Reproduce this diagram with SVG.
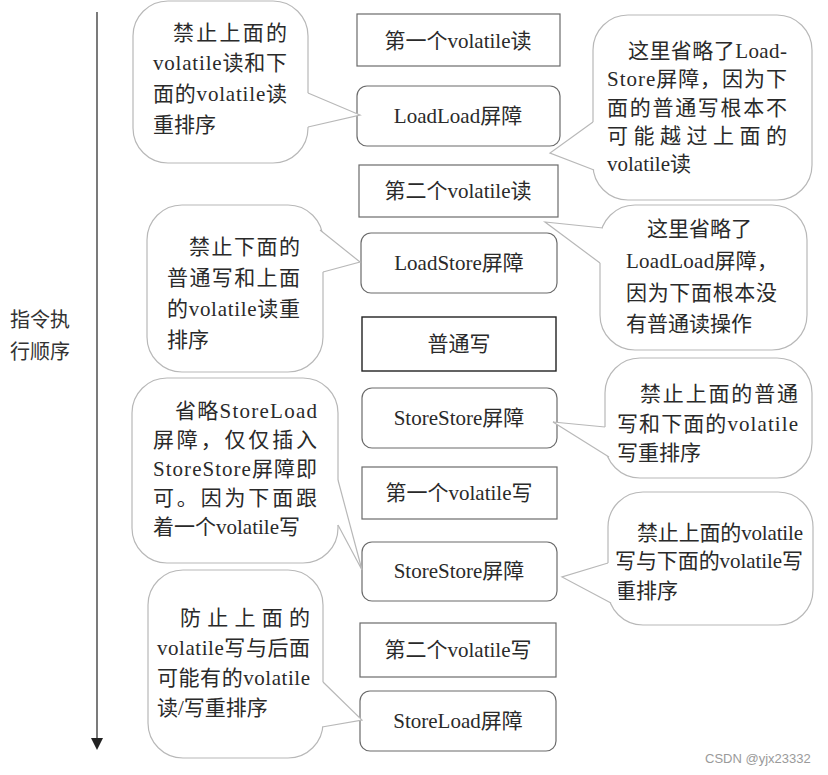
<svg xmlns="http://www.w3.org/2000/svg" width="828" height="775" viewBox="0 0 828 775">
<style>
.bg{fill:#fff}
.box{fill:#fff;stroke:#6b6b6b;stroke-width:1.2}
.plain{fill:#fff;stroke:#222;stroke-width:1.4}
.bubble{fill:#fff;stroke:#b8b8b8;stroke-width:1.2}
.tailfill{fill:#fff;stroke:none}
.tail{fill:none;stroke:#b8b8b8;stroke-width:1.2;stroke-linejoin:miter}
.t{font-family:"Liberation Serif","Noto Sans CJK SC",serif;font-size:21px;fill:#2a2a2a}
.c{text-anchor:middle}
.axis{stroke:#333;stroke-width:1.3}
.axtxt{font-family:"Noto Sans CJK SC","Liberation Sans",sans-serif;font-size:20px;fill:#333}
.wm{font-family:"Liberation Sans",Arial,sans-serif;font-size:13px;fill:#9a9a9a}
</style>
<rect class="bg" x="0" y="0" width="828" height="775"/>

<g id="axis">
  <line class="axis" x1="97" y1="12" x2="97" y2="740"/>
  <polygon points="91,738 103,738 97,750" fill="#222"/>
  <text class="axtxt" x="10" y="327">指令执</text>
  <text class="axtxt" x="10" y="359">行顺序</text>
</g>

<g id="n1"><rect class="box" x="357" y="14" width="203" height="52"/><text class="t c" x="458" y="48">第一个volatile读</text></g>
<g id="n2"><rect class="box" x="357" y="86" width="203" height="60" rx="10"/><text class="t c" x="458" y="123">LoadLoad屏障</text></g>
<g id="n3"><rect class="box" x="359" y="165" width="199" height="52"/><text class="t c" x="458" y="198">第二个volatile读</text></g>
<g id="n4"><rect class="box" x="361" y="233" width="196" height="60" rx="10"/><text class="t c" x="459" y="270">LoadStore屏障</text></g>
<g id="n5"><rect class="plain" x="362" y="317" width="194" height="54"/><text class="t c" x="459" y="351">普通写</text></g>
<g id="n6"><rect class="box" x="362" y="388" width="195" height="60" rx="10"/><text class="t c" x="459" y="425">StoreStore屏障</text></g>
<g id="n7"><rect class="box" x="362" y="467" width="195" height="52"/><text class="t c" x="459" y="500">第一个volatile写</text></g>
<g id="n8"><rect class="box" x="362" y="542" width="195" height="59" rx="10"/><text class="t c" x="459" y="578">StoreStore屏障</text></g>
<g id="n9"><rect class="box" x="360" y="623" width="196" height="54"/><text class="t c" x="458" y="657">第二个volatile写</text></g>
<g id="n10"><rect class="box" x="360" y="691" width="196" height="60" rx="10"/><text class="t c" x="458" y="728">StoreLoad屏障</text></g>

<g id="callout-l1">
  <rect class="bubble" x="133" y="1" width="175" height="162" rx="35"/>
  <text class="t" x="173" y="40" textLength="114" lengthAdjust="spacing">禁止上面的</text>
  <text class="t" x="153" y="70" textLength="134" lengthAdjust="spacing">volatile读和下</text>
  <text class="t" x="153" y="101" textLength="134" lengthAdjust="spacing">面的volatile读</text>
  <text class="t" x="153" y="132">重排序</text>
</g>
<g id="callout-l2">
  <rect class="bubble" x="147" y="205" width="176" height="167" rx="35"/>
  <text class="t" x="189" y="254" textLength="111" lengthAdjust="spacing">禁止下面的</text>
  <text class="t" x="167" y="285" textLength="133" lengthAdjust="spacing">普通写和上面</text>
  <text class="t" x="167" y="316" textLength="133" lengthAdjust="spacing">的volatile读重</text>
  <text class="t" x="167" y="347">排序</text>
</g>
<g id="callout-l3">
  <rect class="bubble" x="132" y="378" width="206" height="185" rx="35"/>
  <text class="t" x="175" y="418" textLength="142" lengthAdjust="spacing">省略StoreLoad</text>
  <text class="t" x="153" y="447" textLength="164" lengthAdjust="spacing">屏障，仅仅插入</text>
  <text class="t" x="153" y="476" textLength="164" lengthAdjust="spacing">StoreStore屏障即</text>
  <text class="t" x="153" y="505" textLength="164" lengthAdjust="spacing">可。因为下面跟</text>
  <text class="t" x="153" y="534">着一个volatile写</text>
</g>
<g id="callout-l4">
  <rect class="bubble" x="148" y="570" width="175" height="188" rx="35"/>
  <text class="t" x="180" y="625" textLength="130" lengthAdjust="spacing">防止上面的</text>
  <text class="t" x="157" y="655" textLength="153" lengthAdjust="spacing">volatile写与后面</text>
  <text class="t" x="157" y="685" textLength="153" lengthAdjust="spacing">可能有的volatile</text>
  <text class="t" x="157" y="715">读/写重排序</text>
</g>
<g id="callout-r1">
  <rect class="bubble" x="593" y="15" width="219" height="185" rx="35"/>
  <text class="t" x="628" y="58" textLength="159" lengthAdjust="spacing">这里省略了Load-</text>
  <text class="t" x="607" y="86" textLength="180" lengthAdjust="spacing">Store屏障，因为下</text>
  <text class="t" x="607" y="115" textLength="180" lengthAdjust="spacing">面的普通写根本不</text>
  <text class="t" x="607" y="143" textLength="180" lengthAdjust="spacing">可能越过上面的</text>
  <text class="t" x="607" y="171">volatile读</text>
</g>
<g id="callout-r2">
  <rect class="bubble" x="600" y="205" width="207" height="145" rx="35"/>
  <text class="t" x="647" y="236">这里省略了</text>
  <text class="t" x="626" y="268" textLength="152" lengthAdjust="spacing">LoadLoad屏障，</text>
  <text class="t" x="626" y="300" textLength="151" lengthAdjust="spacing">因为下面根本没</text>
  <text class="t" x="626" y="331">有普通读操作</text>
</g>
<g id="callout-r3">
  <rect class="bubble" x="605" y="358" width="207" height="120" rx="35"/>
  <text class="t" x="640" y="401" textLength="158" lengthAdjust="spacing">禁止上面的普通</text>
  <text class="t" x="617" y="431" textLength="181" lengthAdjust="spacing">写和下面的volatile</text>
  <text class="t" x="617" y="460">写重排序</text>
</g>
<g id="callout-r4">
  <rect class="bubble" x="608" y="492" width="205" height="133" rx="35"/>
  <text class="t" x="637" y="540" textLength="166" lengthAdjust="spacing">禁止上面的volatile</text>
  <text class="t" x="615" y="568" textLength="188" lengthAdjust="spacing">写与下面的volatile写</text>
  <text class="t" x="615" y="598">重排序</text>
</g>

<g id="connectors">
  <path class="tailfill" d="M308,93 L360,115 L308,127 L299,127 L299,93 Z"/>
  <path class="tail" d="M308,93 L360,115 L308,127"/>
  <path class="tailfill" d="M320,230 L360,262 L323,272 L313,272 L311,233 Z"/>
  <path class="tail" d="M320,230 L360,262 L323,272"/>
  <path class="tailfill" d="M338,480 L362,570 L338,525 L329,525 L329,480 Z"/>
  <path class="tail" d="M338,480 L362,570 L338,525"/>
  <path class="tailfill" d="M323,682 L362,720 L322,727 L313,725 L314,682 Z"/>
  <path class="tail" d="M323,682 L362,720 L322,727"/>
  <path class="tailfill" d="M593,122 L550,153 L594,170 L603,168 L602,122 Z"/>
  <path class="tail" d="M593,122 L550,153 L594,170"/>
  <path class="tailfill" d="M603,228 L545,222 L600,263 L609,263 L612,231 Z"/>
  <path class="tail" d="M603,228 L545,222 L600,263"/>
  <path class="tailfill" d="M605,427 L553,422 L609,457 L617,455 L614,427 Z"/>
  <path class="tail" d="M605,427 L553,422 L609,457"/>
  <path class="tailfill" d="M608,563 L562,577 L611,603 L619,600 L617,563 Z"/>
  <path class="tail" d="M608,563 L562,577 L611,603"/>
</g>

<text class="wm" x="705" y="763">CSDN @yjx23332</text>
</svg>
